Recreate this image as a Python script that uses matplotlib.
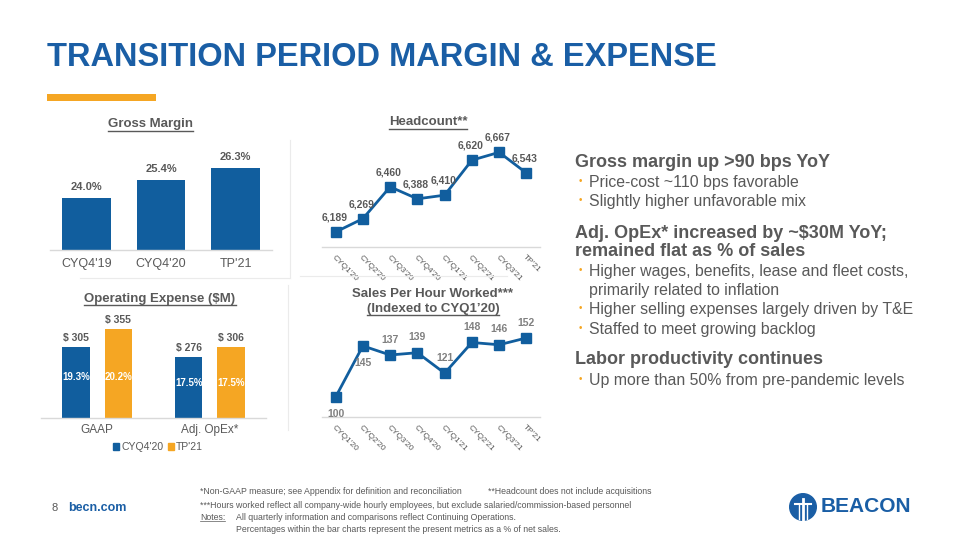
import matplotlib
matplotlib.use("Agg")
import matplotlib.pyplot as plt
from matplotlib.lines import Line2D
from matplotlib.patches import Circle, Rectangle, Patch
import numpy as np

plt.rcParams['font.family'] = ['Liberation Sans', 'DejaVu Sans']

BLUE = '#115E9E'
TITLE_BLUE = '#1A5EA5'
ORANGE = '#F5A623'
GRAY = '#595959'
LIGHT = '#808080'
AXIS = '#D9D9D9'

# data
gm_cats = ["CYQ4'19", "CYQ4'20", "TP'21"]
gm_vals = [24.0, 25.4, 26.3]

quarters = ["CYQ1'20", "CYQ2'20", "CYQ3'20", "CYQ4'20", "CYQ1'21", "CYQ2'21", "CYQ3'21", "TP'21"]
headcount = [6189, 6269, 6460, 6388, 6410, 6620, 6667, 6543]
sales_per_hour = [100, 145, 137, 139, 121, 148, 146, 152]
sales_label_below = [True, True, False, False, False, False, False, False]

opex_cats = ["GAAP", "Adj. OpEx*"]
opex_series = ["CYQ4'20", "TP'21"]
opex_cyq420 = [305, 276]
opex_tp21 = [355, 306]
opex_pct_cyq420 = ["19.3%", "17.5%"]
opex_pct_tp21 = ["20.2%", "17.5%"]

W, H = 960, 540
fig = plt.figure(figsize=(9.6, 5.4), dpi=100)
fig.patch.set_facecolor('white')


def fx(x):
    return x / W


def fy(y):
    return 1 - y / H


def px_axes(l, t, r, b):
    ax = fig.add_axes([fx(l), fy(b), (r - l) / W, (b - t) / H])
    ax.set_facecolor('none')
    for s in ['top', 'right', 'left']:
        ax.spines[s].set_visible(False)
    ax.spines['bottom'].set_color(AXIS)
    ax.spines['bottom'].set_linewidth(1)
    ax.set_yticks([])
    ax.tick_params(axis='x', length=0, colors=GRAY)
    return ax


def ftext(x, y, s, **kw):
    return fig.text(fx(x), fy(y), s, **kw)


def underline(t, y, color=GRAY, lw=1.0):
    r = fig.canvas.get_renderer()
    bb = t.get_window_extent(r)
    fig.add_artist(Line2D([bb.x0 / W, bb.x1 / W], [fy(y), fy(y)], color=color, lw=lw))


# title
ftext(47, 66.5, "TRANSITION PERIOD MARGIN & EXPENSE", fontsize=23.5, fontweight='bold',
      color=TITLE_BLUE, va='baseline', ha='left')
fig.add_artist(Rectangle((fx(47), fy(101)), fx(156) - fx(47), 7 / H, color=ORANGE, lw=0))

# faint panel borders
for xs, ys in [([290, 290], [140, 278]), ([80, 290], [278, 278]),
               ([300, 507], [276, 276]), ([288, 288], [285, 430])]:
    fig.add_artist(Line2D([fx(v) for v in xs], [fy(v) for v in ys], color='#EBEBEB', lw=0.8))

# gross margin
ax = px_axes(50, 140, 272, 250)
x = np.arange(len(gm_cats))
ax.bar(x, gm_vals, width=0.65, color=BLUE, bottom=0)
ax.set_xlim(-0.49, 2.49)
ax.set_ylim(20, 28.46)
ax.set_xticks(x)
ax.set_xticklabels(gm_cats, fontsize=9, color=GRAY)
ax.tick_params(axis='x', pad=6)
for xi, v in zip(x, gm_vals):
    ax.annotate(f"{v:.1f}%", (xi, v), xytext=(0, 8), textcoords='offset points',
                ha='center', va='center', fontsize=8, fontweight='bold', color=GRAY)
t = ftext(150, 127, "Gross Margin", fontsize=9.5, fontweight='bold', color=GRAY,
          ha='center', va='baseline')
underline(t, 131)

# headcount
ax = px_axes(322, 140, 540, 247)
x = np.arange(len(quarters))
ax.plot(x, headcount, color=BLUE, lw=2, marker='s', markersize=7.5)
ax.set_xlim(-0.5, 7.5)
ax.set_ylim(6099, 6741)
ax.set_xticks(x)
ax.set_xticklabels(quarters, fontsize=6, color=GRAY, rotation=-45, ha='left',
                   va='top', rotation_mode='anchor')
ax.tick_params(axis='x', pad=5)
for xi, v in zip(x, headcount):
    ax.annotate(f"{v:,}", (xi, v), xytext=(-1, 10.5), textcoords='offset points',
                ha='center', va='center', fontsize=7.5, fontweight='bold', color=GRAY)
t = ftext(428, 125, "Headcount**", fontsize=9.5, fontweight='bold', color=GRAY,
          ha='center', va='baseline')
underline(t, 129)

# sales per hour
ax = px_axes(322, 325, 540, 417)
ax.plot(x, sales_per_hour, color=BLUE, lw=2, marker='s', markersize=7.5)
ax.set_xlim(-0.5, 7.5)
ax.set_ylim(82.4, 163.4)
ax.set_xticks(x)
ax.set_xticklabels(quarters, fontsize=6, color=GRAY, rotation=-45, ha='left',
                   va='top', rotation_mode='anchor')
ax.tick_params(axis='x', pad=5)
for xi, v, below in zip(x, sales_per_hour, sales_label_below):
    off = -12 if below else 11
    ax.annotate(f"{v}", (xi, v), xytext=(0, off), textcoords='offset points',
                ha='center', va='center', fontsize=7.5, fontweight='bold', color=LIGHT)
ftext(433, 297, "Sales Per Hour Worked***", fontsize=9.5, fontweight='bold', color=GRAY,
      ha='center', va='baseline')
t = ftext(433, 312, "(Indexed to CYQ1\u201920)", fontsize=9.5, fontweight='bold', color=GRAY,
          ha='center', va='baseline')
underline(t, 315)

# operating expense
ax = px_axes(41, 315, 266, 418)
x = np.arange(len(opex_cats))
off, bw = 0.187, 0.245
lo = 108
ax.bar(x - off, opex_cyq420, width=bw, color=BLUE)
ax.bar(x + off, opex_tp21, width=bw, color=ORANGE)
ax.set_xlim(-0.5, 1.5)
ax.set_ylim(lo, 394)
ax.set_xticks(x)
ax.set_xticklabels(opex_cats, fontsize=8.5, color=GRAY)
ax.tick_params(axis='x', pad=4)
for xi, a, b, pa, pb in zip(x, opex_cyq420, opex_tp21, opex_pct_cyq420, opex_pct_tp21):
    for xx, v in [(xi - off, a), (xi + off, b)]:
        ax.annotate(f"$ {v}", (xx, v), xytext=(0, 6.5), textcoords='offset points',
                    ha='center', va='center', fontsize=7.5, fontweight='bold', color=GRAY)
    ymid = lo + 0.58 * (min(a, b) - lo)
    ax.text(xi - off, ymid, pa, ha='center', va='center', fontsize=7, fontweight='bold', color='white')
    ax.text(xi + off, ymid, pb, ha='center', va='center', fontsize=7, fontweight='bold', color='white')
handles = [Patch(color=BLUE), Patch(color=ORANGE)]
fig.legend(handles, opex_series, loc='center', bbox_to_anchor=(fx(158), fy(447)), ncol=2,
           frameon=False, fontsize=7.5, handlelength=0.6, handleheight=0.6,
           handletextpad=0.2, columnspacing=0.4, labelcolor=GRAY)
t = ftext(160, 302, "Operating Expense ($M)", fontsize=9.5, fontweight='bold', color=GRAY,
          ha='center', va='baseline')
underline(t, 305)

# right hand text (y = line centre in px)
items = [
    ('h', 161, "Gross margin up >90 bps YoY"),
    ('b', 181, "Price-cost ~110 bps favorable"),
    ('b', 200, "Slightly higher unfavorable mix"),
    ('h', 231, "Adj. OpEx* increased by ~$30M YoY;"),
    ('h', 250, "remained flat as % of sales"),
    ('b', 270, "Higher wages, benefits, lease and fleet costs,"),
    ('c', 289, "primarily related to inflation"),
    ('b', 308, "Higher selling expenses largely driven by T&E"),
    ('b', 328, "Staffed to meet growing backlog"),
    ('h', 358, "Labor productivity continues"),
    ('b', 379, "Up more than 50% from pre-pandemic levels"),
]
for kind, y, s in items:
    if kind == 'h':
        ftext(575, y + 6.5, s, fontsize=13, fontweight='bold', color=GRAY, va='baseline')
    else:
        if kind == 'b':
            ftext(579, y, "\u2022", fontsize=7, color=ORANGE, va='center')
        ftext(589, y + 5.7, s, fontsize=11.4, color=GRAY, va='baseline')

# footer
ftext(52, 508, "8", fontsize=8, color=GRAY, va='center')
ftext(68, 508, "becn.com", fontsize=9, fontweight='bold', color=TITLE_BLUE, va='center')
fn = dict(fontsize=6.3, color=GRAY, va='center', ha='left')
ftext(200, 492, "*Non-GAAP measure; see Appendix for definition and reconciliation", **fn)
ftext(488, 492, "**Headcount does not include acquisitions", **fn)
ftext(200, 505, "***Hours worked reflect all company-wide hourly employees, but exclude salaried/commission-based personnel", **fn)
t = ftext(200, 517, "Notes:", **fn)
underline(t, 521, lw=0.5)
ftext(236, 517, "All quarterly information and comparisons reflect Continuing Operations.", **fn)
ftext(236, 529, "Percentages within the bar charts represent the present metrics as a % of net sales.", **fn)

# logo
lax = fig.add_axes([fx(789), fy(521), 28 / W, 28 / H])
lax.set_xlim(-1, 1)
lax.set_ylim(-1, 1)
lax.set_aspect('equal')
lax.axis('off')
lax.add_patch(Circle((0, 0), 0.95, color=TITLE_BLUE))
lax.plot([-0.55, 0.55], [0.25, 0.25], color='white', lw=1.5)
lax.plot([0, 0], [-0.95, 0.6], color='white', lw=2)
lax.plot([-0.3, -0.3], [-0.85, 0.25], color='white', lw=1)
lax.plot([0.3, 0.3], [-0.85, 0.25], color='white', lw=1)
ftext(821, 507, "BEACON", fontsize=15, fontweight='bold', color=TITLE_BLUE, va='center')

fig.savefig("out.png", dpi=100, facecolor='white')
